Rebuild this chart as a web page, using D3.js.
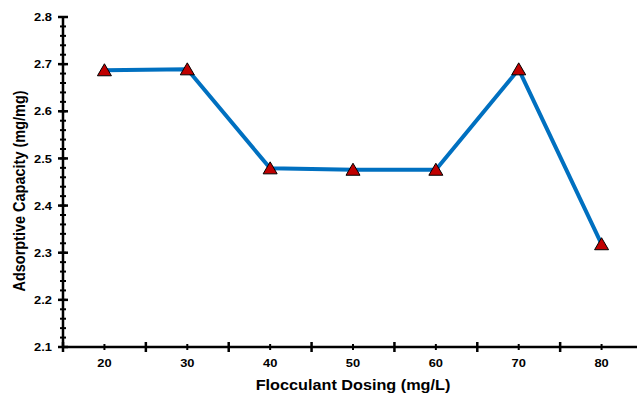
<!DOCTYPE html>
<html>
<head>
<meta charset="utf-8">
<script src="https://cdn.jsdelivr.net/npm/d3@7"></script>
<style>
    body { margin: 0; background: #fff; }
    text { font-family: "Liberation Sans", Arial, sans-serif; font-weight: bold; fill: #000; }
</style>
</head>
<body>
<div id="chart"></div>
<script>
// values
var dosing = [20, 30, 40, 50, 60, 70, 80];
var capacity = [2.687, 2.689, 2.479, 2.476, 2.476, 2.689, 2.318];
var yTicks = [2.1, 2.2, 2.3, 2.4, 2.5, 2.6, 2.7, 2.8];
var xMajorTicks = [15, 25, 35, 45, 55, 65, 75, 85];

var width = 637, height = 395;
var margin = { left: 63, top: 17, right: -6, bottom: 48 };
var stretch = 1.12; // reference text is slightly wider than it is tall

var svg = d3.select('#chart')
    .append('svg')
    .attr('width', width)
    .attr('height', height);

var plotW = width - margin.left - margin.right;
var plotH = height - margin.top - margin.bottom;

var xScale = d3.scaleLinear().domain([15, 85]).range([0, plotW]);
var yScale = d3.scaleLinear().domain([2.1, 2.8]).range([plotH, 0]);

var g = svg.append('g')
    .attr('transform', `translate(${margin.left},${margin.top})`);

// y axis: crossing major ticks with labels, smaller minor ticks every 0.02
var yMinor = d3.range(2.1, 2.8001, 0.02).map(function (d) { return +d.toFixed(2); });
var yAxis = g.append('g');
yAxis.append('line')
    .attr('x1', 0).attr('x2', 0)
    .attr('y1', yScale(2.8)).attr('y2', yScale(2.1))
    .attr('stroke', '#000').attr('stroke-width', 2.5);
yAxis.selectAll('.ymin')
    .data(yMinor)
    .join('line')
    .attr('x1', -3).attr('x2', 3)
    .attr('y1', function (d) { return yScale(d); })
    .attr('y2', function (d) { return yScale(d); })
    .attr('stroke', '#000').attr('stroke-width', 2);
yAxis.selectAll('.ymaj')
    .data(yTicks)
    .join('line')
    .attr('x1', -5).attr('x2', 5)
    .attr('y1', function (d) { return yScale(d); })
    .attr('y2', function (d) { return yScale(d); })
    .attr('stroke', '#000').attr('stroke-width', 2.5);
yAxis.selectAll('text')
    .data(yTicks)
    .join('text')
    .attr('transform', function (d) {
        return `translate(-11,${yScale(d)}) scale(${stretch},1)`;
    })
    .attr('dy', '0.36em')
    .attr('text-anchor', 'end')
    .style('font-size', '11.5px')
    .text(function (d) { return d.toFixed(1); });

// x axis: long ticks between categories, short ticks at labels
var xAxis = g.append('g').attr('transform', `translate(0,${plotH})`);
xAxis.append('line')
    .attr('x1', 0).attr('x2', plotW)
    .attr('y1', 0).attr('y2', 0)
    .attr('stroke', '#000').attr('stroke-width', 2.5);
xAxis.selectAll('.xmin')
    .data(dosing)
    .join('line')
    .attr('x1', function (d) { return xScale(d); })
    .attr('x2', function (d) { return xScale(d); })
    .attr('y1', -3).attr('y2', 3)
    .attr('stroke', '#000').attr('stroke-width', 2);
xAxis.selectAll('.xmaj')
    .data(xMajorTicks)
    .join('line')
    .attr('x1', function (d) { return xScale(d); })
    .attr('x2', function (d) { return xScale(d); })
    .attr('y1', -5).attr('y2', 5)
    .attr('stroke', '#000').attr('stroke-width', 2.5);
xAxis.selectAll('text')
    .data(dosing)
    .join('text')
    .attr('transform', function (d) {
        return `translate(${xScale(d)},20) scale(${stretch},1)`;
    })
    .attr('text-anchor', 'middle')
    .style('font-size', '11.5px')
    .text(function (d) { return d; });

// series line
var points = dosing.map(function (d, i) { return [d, capacity[i]]; });
g.append('path')
    .datum(points)
    .attr('fill', 'none')
    .attr('stroke', '#0070c0')
    .attr('stroke-width', 4)
    .attr('stroke-linejoin', 'round')
    .attr('d', d3.line()
        .x(function (d) { return xScale(d[0]); })
        .y(function (d) { return yScale(d[1]); }));

// triangle markers, centred on their bounding box
var tri = 'M0,-6.5L7,5.5L-7,5.5Z';
g.selectAll('.marker')
    .data(points)
    .join('path')
    .attr('d', tri)
    .attr('transform', function (d) {
        return `translate(${xScale(d[0])},${yScale(d[1])})`;
    })
    .attr('fill', '#c00000')
    .attr('stroke', '#000')
    .attr('stroke-width', 1);

// axis titles
svg.append('text')
    .attr('transform', `translate(${margin.left + xScale(50)},390) scale(${stretch},1)`)
    .attr('text-anchor', 'middle')
    .style('font-size', '14.5px')
    .text('Flocculant Dosing (mg/L)');

svg.append('text')
    .attr('transform', `translate(25,${margin.top + plotH / 2 + 9}) rotate(-90) scale(1,${stretch})`)
    .attr('text-anchor', 'middle')
    .style('font-size', '14.5px')
    .text('Adsorptive Capacity (mg/mg)');
</script>
</body>
</html>
